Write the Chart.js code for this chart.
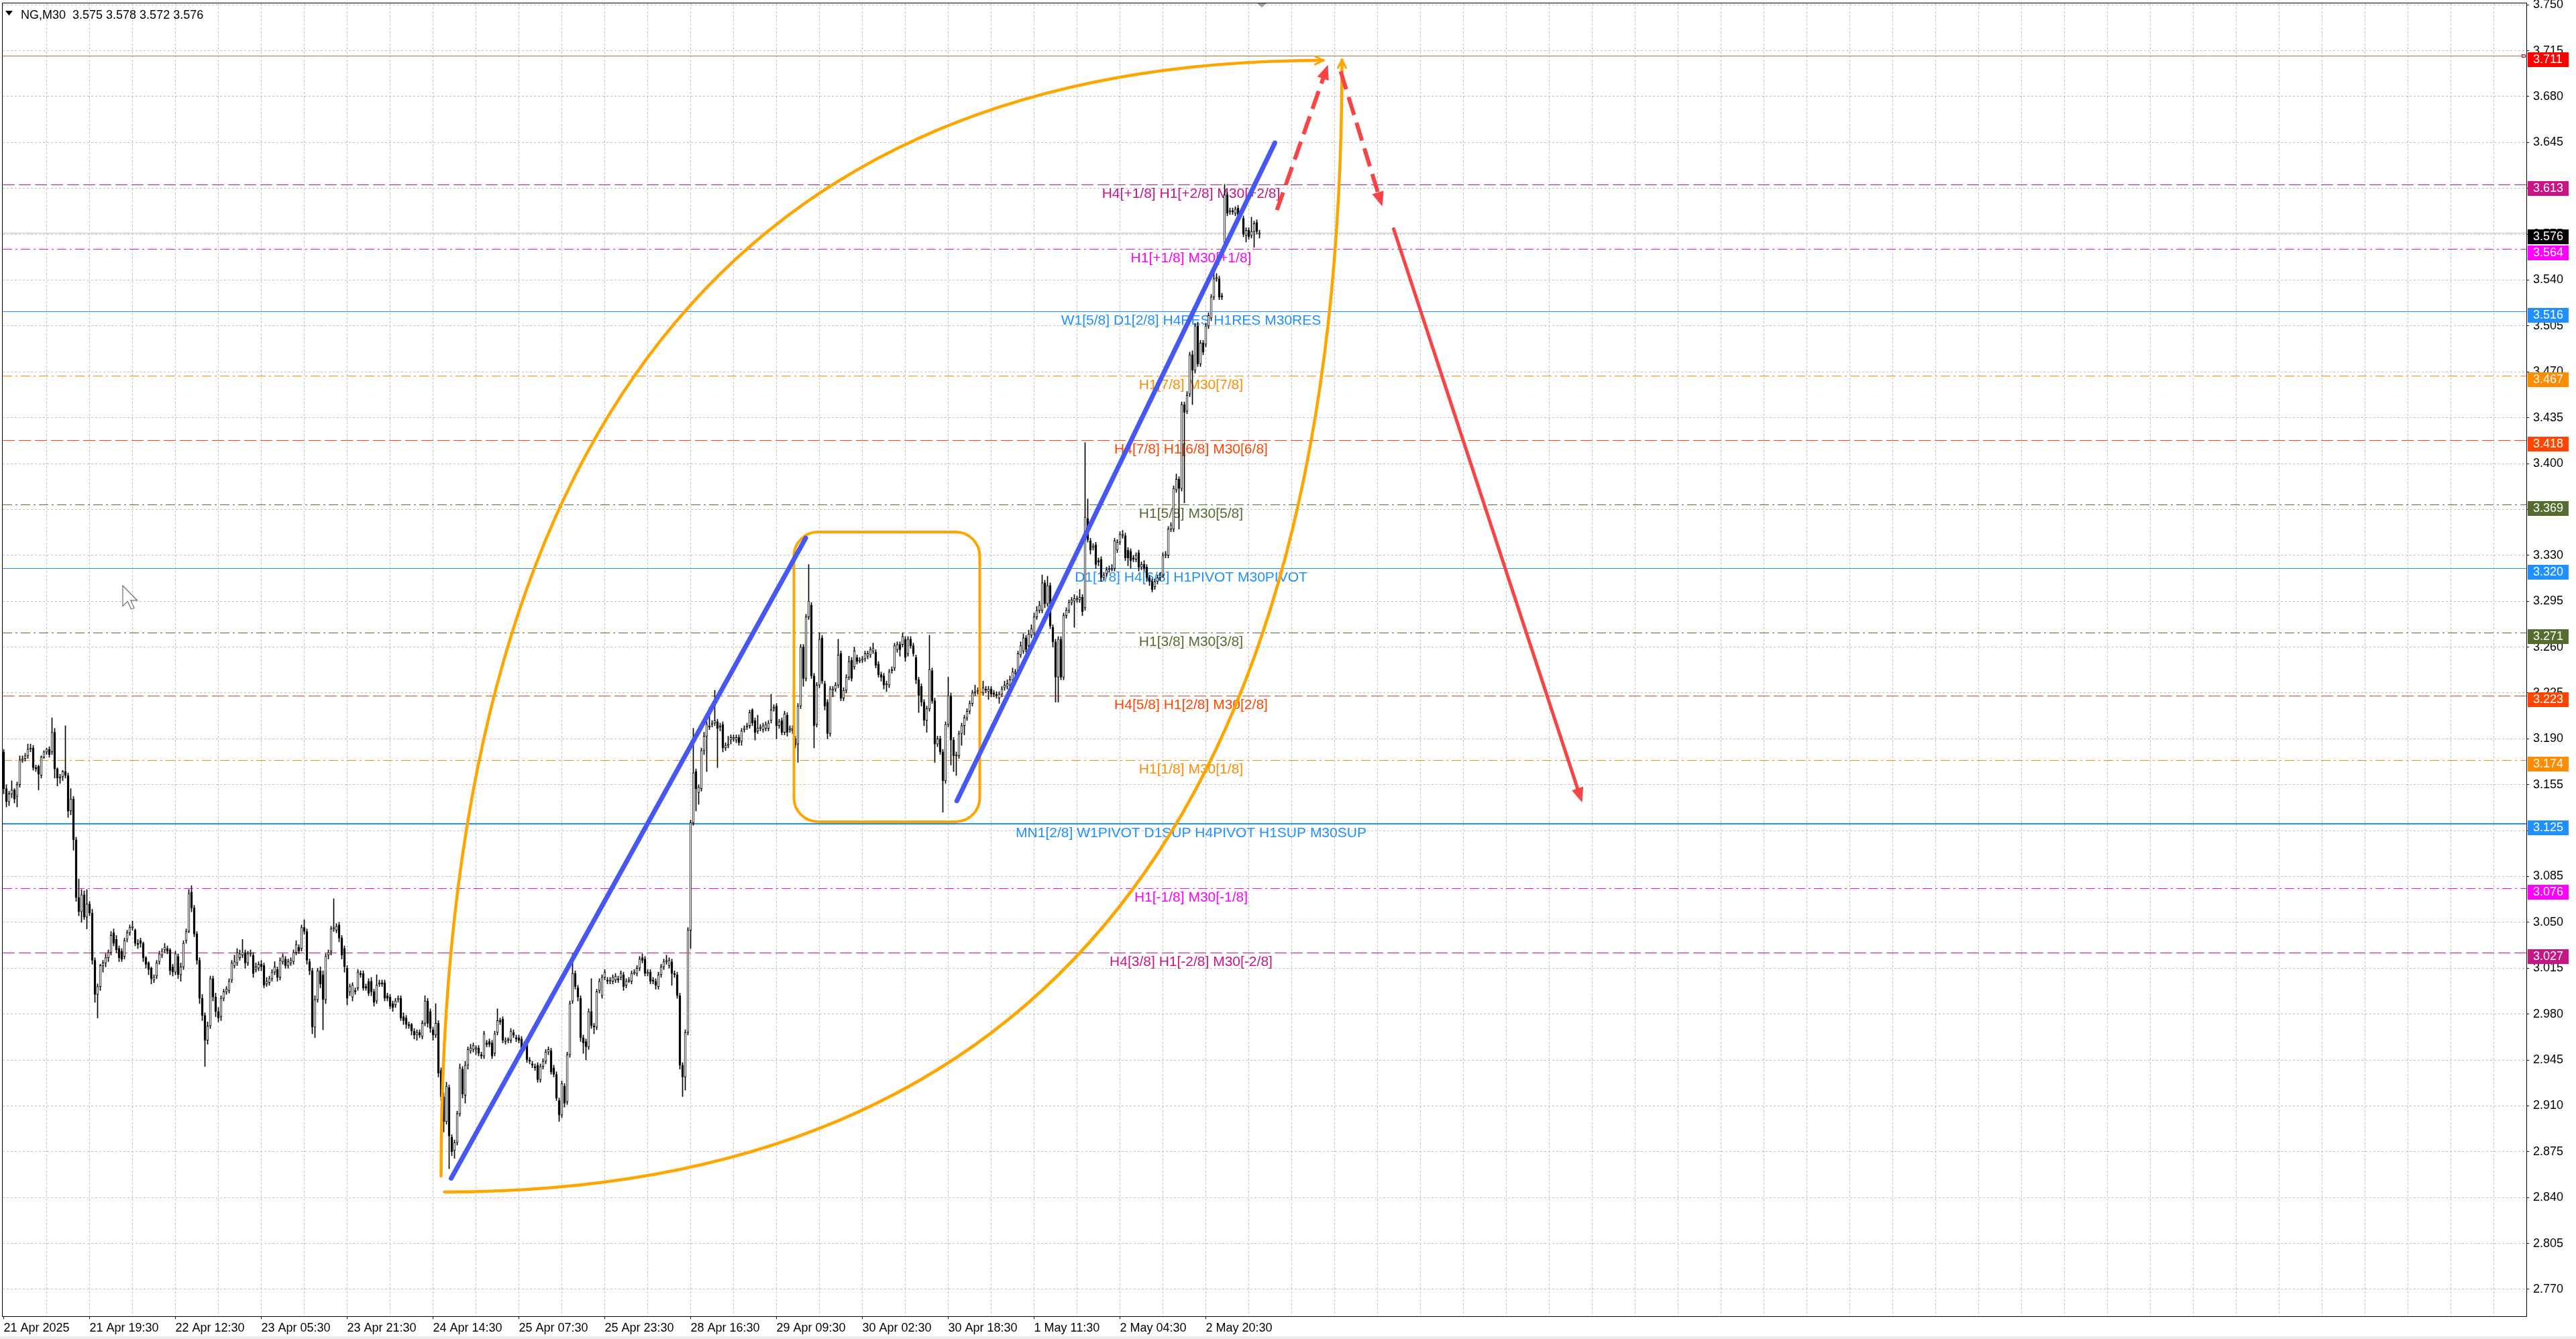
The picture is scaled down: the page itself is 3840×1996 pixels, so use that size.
<!DOCTYPE html>
<html>
<head>
<meta charset="utf-8">
<script src="https://cdn.jsdelivr.net/npm/chart.js@4.4.1/dist/chart.umd.min.js"></script>
<style>
  html, body { margin: 0; padding: 0; background: #fff; }
  canvas { display: block; }
</style>
</head>
<body>
<canvas id="chart" width="3840" height="1996"></canvas>
<script>
// NG, M30 candles (bar index = position on the time axis)
const chartTitle = 'NG,M30  3.575 3.578 3.572 3.576';
const timeLabels = ['21 Apr 2025', '21 Apr 19:30', '22 Apr 12:30', '23 Apr 05:30', '23 Apr 21:30', '24 Apr 14:30',
  '25 Apr 07:30', '25 Apr 23:30', '28 Apr 16:30', '29 Apr 09:30', '30 Apr 02:30', '30 Apr 18:30',
  '1 May 11:30', '2 May 04:30', '2 May 20:30'];
const priceTicks = [2.770, 2.805, 2.840, 2.875, 2.910, 2.945, 2.980, 3.015, 3.050, 3.085, 3.120, 3.155, 3.190, 3.225,
  3.260, 3.295, 3.330, 3.365, 3.400, 3.435, 3.470, 3.505, 3.540, 3.575, 3.610, 3.645, 3.680, 3.715, 3.750];

const opens = [
3.180,3.152,3.142,3.148,3.151,3.146,3.155,3.174,3.175,3.177,
3.182,3.183,3.168,3.169,3.162,3.176,3.180,3.182,3.180,3.195,
3.167,3.160,3.161,3.165,3.162,3.135,3.144,3.113,3.069,3.058,
3.071,3.054,3.064,3.057,3.021,2.995,3.001,3.017,3.019,3.023,
3.027,3.042,3.037,3.030,3.028,3.024,3.037,3.042,3.046,3.044,
3.034,3.036,3.034,3.023,3.019,3.015,3.006,3.009,3.020,3.025,
3.029,3.030,3.029,3.016,3.012,3.024,3.010,3.016,3.036,3.043,
3.073,3.061,3.041,3.021,2.992,2.979,2.960,2.971,3.007,2.993,
2.982,2.978,2.992,2.997,2.998,3.006,3.017,3.019,3.023,3.025,
3.027,3.019,3.026,3.025,3.014,3.015,3.018,3.017,3.003,3.004,
3.007,3.012,3.014,3.008,3.020,3.022,3.017,3.019,3.020,3.027,
3.031,3.030,3.046,3.043,3.020,3.013,2.970,2.991,3.013,3.010,
2.991,3.025,3.028,3.045,3.044,3.048,3.038,3.030,3.015,2.997,
2.993,2.998,3.000,3.011,3.011,3.001,3.005,3.005,2.997,2.990,
3.003,3.004,3.004,2.994,2.993,2.988,2.987,2.991,2.992,2.978,
2.977,2.972,2.972,2.967,2.964,2.966,2.963,2.973,2.990,2.982,
2.968,2.964,2.973,2.937,2.917,2.898,2.924,2.886,2.876,2.882,
2.904,2.938,2.918,2.941,2.952,2.953,2.953,2.954,2.949,2.948,
2.958,2.959,2.958,2.950,2.966,2.975,2.976,2.959,2.960,2.960,
2.966,2.962,2.962,2.961,2.954,2.958,2.945,2.942,2.940,2.941,
2.930,2.940,2.944,2.951,2.952,2.939,2.934,2.914,2.903,2.925,
2.913,2.949,2.990,3.011,3.000,2.992,2.962,2.959,2.955,2.982,
2.971,2.970,2.998,2.994,3.008,3.006,3.005,3.005,3.006,3.007,
3.008,3.010,3.002,3.005,3.005,3.011,3.011,3.015,3.023,3.022,
3.011,3.012,3.006,3.005,3.001,3.010,3.016,3.020,3.017,3.020,
3.011,3.010,2.994,2.941,2.932,2.966,3.044,3.126,3.165,3.149,
3.152,3.181,3.192,3.199,3.201,3.202,3.203,3.199,3.201,3.183,
3.185,3.189,3.190,3.189,3.191,3.188,3.197,3.199,3.200,3.212,
3.204,3.196,3.198,3.197,3.198,3.198,3.204,3.213,3.215,3.200,
3.204,3.195,3.208,3.197,3.198,3.190,3.186,3.215,3.260,3.236,
3.283,3.292,3.238,3.201,3.231,3.267,3.232,3.218,3.194,3.227,
3.228,3.231,3.255,3.221,3.227,3.237,3.250,3.245,3.252,3.249,
3.250,3.251,3.253,3.254,3.257,3.256,3.247,3.239,3.238,3.231,
3.231,3.242,3.244,3.258,3.262,3.262,3.266,3.255,3.266,3.261,
3.252,3.235,3.230,3.218,3.204,3.213,3.242,3.219,3.186,3.190,
3.180,3.158,3.201,3.223,3.189,3.177,3.177,3.194,3.200,3.206,
3.211,3.217,3.225,3.226,3.226,3.225,3.228,3.226,3.228,3.225,
3.224,3.221,3.224,3.229,3.230,3.231,3.235,3.240,3.242,3.254,
3.257,3.267,3.261,3.269,3.271,3.283,3.288,3.288,3.309,3.293,
3.307,3.275,3.264,3.237,3.266,3.237,3.284,3.288,3.294,3.295,
3.296,3.296,3.298,3.290,3.358,3.341,3.336,3.338,3.326,3.327,
3.313,3.316,3.319,3.319,3.320,3.334,3.340,3.345,3.345,3.334,
3.333,3.328,3.327,3.332,3.321,3.323,3.321,3.313,3.310,3.306,
3.310,3.313,3.315,3.330,3.330,3.350,3.350,3.380,3.388,3.381,
3.445,3.440,3.453,3.483,3.471,3.505,3.476,3.492,3.491,3.505,
3.511,3.527,3.541,3.541,3.528,3.569,3.605,3.592,3.593,3.591,
3.595,3.591,3.587,3.574,3.578,3.574,3.577,3.584,3.575
];
const highs = [
3.182,3.155,3.150,3.158,3.152,3.157,3.177,3.177,3.179,3.186,
3.186,3.185,3.170,3.170,3.177,3.181,3.183,3.184,3.206,3.198,
3.168,3.163,3.166,3.200,3.164,3.152,3.146,3.115,3.083,3.075,
3.074,3.075,3.066,3.060,3.023,3.003,3.018,3.021,3.026,3.029,
3.043,3.045,3.040,3.032,3.030,3.038,3.044,3.048,3.051,3.045,
3.037,3.038,3.035,3.024,3.020,3.016,3.010,3.021,3.028,3.030,
3.034,3.032,3.030,3.018,3.028,3.026,3.019,3.036,3.045,3.075,
3.078,3.063,3.043,3.023,2.995,2.981,2.974,3.009,3.009,2.996,
2.985,2.994,2.999,3.001,3.007,3.021,3.025,3.030,3.029,3.037,
3.029,3.028,3.029,3.027,3.019,3.020,3.021,3.019,3.008,3.009,
3.014,3.020,3.016,3.023,3.026,3.024,3.022,3.023,3.029,3.036,
3.033,3.048,3.052,3.045,3.022,3.015,2.994,3.015,3.016,3.013,
3.026,3.029,3.047,3.068,3.049,3.050,3.040,3.032,3.017,3.003,
3.004,3.000,3.014,3.013,3.013,3.003,3.007,3.008,2.999,3.010,
3.006,3.006,3.006,2.996,2.995,2.990,2.992,2.994,2.994,2.981,
2.979,2.974,2.973,2.969,2.968,2.968,2.975,2.994,2.992,2.984,
2.970,2.988,2.975,2.939,2.920,2.928,2.926,2.888,2.884,2.906,
2.942,2.940,2.944,2.955,2.957,2.958,2.956,2.956,2.951,2.967,
2.960,2.961,2.960,2.967,2.984,2.977,2.978,2.962,2.962,2.969,
2.968,2.964,2.964,2.963,2.959,2.960,2.947,2.944,2.942,2.943,
2.942,2.946,2.953,2.955,2.954,2.941,2.936,2.916,2.929,2.927,
2.951,2.990,3.026,3.013,3.002,2.994,2.964,2.961,2.984,3.007,
2.973,2.999,3.007,3.010,3.014,3.008,3.008,3.010,3.011,3.009,
3.013,3.012,3.007,3.008,3.013,3.014,3.017,3.024,3.026,3.024,
3.014,3.014,3.008,3.007,3.012,3.018,3.022,3.025,3.023,3.022,
3.013,3.012,2.996,2.943,2.968,3.046,3.128,3.198,3.167,3.155,
3.183,3.195,3.203,3.214,3.204,3.227,3.205,3.202,3.203,3.187,
3.192,3.193,3.193,3.193,3.193,3.198,3.200,3.202,3.212,3.213,
3.206,3.208,3.201,3.202,3.203,3.204,3.224,3.216,3.217,3.205,
3.206,3.211,3.210,3.200,3.200,3.192,3.217,3.262,3.262,3.285,
3.323,3.294,3.240,3.233,3.271,3.269,3.234,3.220,3.230,3.230,
3.233,3.266,3.257,3.229,3.239,3.253,3.252,3.260,3.254,3.252,
3.253,3.257,3.257,3.260,3.263,3.258,3.249,3.241,3.240,3.234,
3.243,3.245,3.263,3.264,3.264,3.271,3.268,3.268,3.268,3.263,
3.254,3.237,3.232,3.220,3.215,3.269,3.244,3.221,3.192,3.192,
3.182,3.203,3.237,3.225,3.191,3.180,3.196,3.202,3.208,3.213,
3.219,3.227,3.231,3.229,3.228,3.234,3.230,3.230,3.230,3.227,
3.226,3.226,3.230,3.234,3.235,3.238,3.244,3.243,3.257,3.264,
3.270,3.269,3.273,3.277,3.286,3.291,3.295,3.315,3.311,3.314,
3.309,3.277,3.266,3.268,3.268,3.286,3.290,3.296,3.298,3.300,
3.299,3.304,3.300,3.416,3.373,3.343,3.339,3.340,3.328,3.329,
3.317,3.321,3.322,3.323,3.343,3.342,3.348,3.349,3.347,3.336,
3.335,3.330,3.332,3.334,3.325,3.326,3.323,3.315,3.312,3.312,
3.315,3.317,3.332,3.333,3.352,3.355,3.383,3.392,3.390,3.447,
3.447,3.455,3.485,3.486,3.507,3.508,3.494,3.494,3.507,3.515,
3.529,3.551,3.545,3.543,3.530,3.613,3.607,3.595,3.595,3.596,
3.597,3.593,3.589,3.580,3.580,3.588,3.585,3.586,3.578
];
const lows = [
3.148,3.138,3.139,3.145,3.141,3.138,3.153,3.172,3.173,3.175,
3.180,3.166,3.165,3.151,3.160,3.175,3.178,3.176,3.178,3.160,
3.154,3.156,3.158,3.160,3.130,3.132,3.105,3.066,3.055,3.050,
3.052,3.045,3.055,3.018,2.989,2.977,2.998,3.012,3.016,3.020,
3.025,3.032,3.027,3.020,3.020,3.022,3.035,3.040,3.044,3.032,
3.030,3.031,3.020,3.015,3.010,3.003,3.004,3.007,3.018,3.023,
3.027,3.026,3.010,3.009,3.010,3.007,3.005,3.014,3.034,3.042,
3.058,3.039,3.018,2.988,2.975,2.940,2.957,2.969,2.990,2.978,
2.974,2.975,2.990,2.995,2.996,3.004,3.015,3.017,3.021,3.023,
3.015,3.017,3.024,3.008,3.012,3.013,3.013,3.000,3.001,3.002,
3.005,3.010,3.005,3.006,3.018,3.015,3.015,3.017,3.018,3.025,
3.026,3.028,3.041,3.018,3.010,2.965,2.962,2.989,3.000,2.968,
2.988,3.022,3.025,3.043,3.042,3.035,3.022,3.012,2.987,2.994,
2.990,2.995,2.998,3.008,2.998,2.998,2.994,2.994,2.986,2.988,
3.001,3.001,2.990,2.990,2.984,2.982,2.985,2.989,2.975,2.972,
2.969,2.969,2.964,2.961,2.960,2.962,2.961,2.971,2.970,2.966,
2.960,2.962,2.932,2.914,2.890,2.896,2.862,2.872,2.870,2.880,
2.902,2.916,2.912,2.938,2.950,2.951,2.949,2.948,2.946,2.946,
2.955,2.955,2.946,2.948,2.964,2.972,2.958,2.957,2.958,2.958,
2.962,2.959,2.958,2.952,2.952,2.943,2.942,2.939,2.937,2.928,
2.928,2.938,2.942,2.949,2.934,2.932,2.914,2.898,2.901,2.909,
2.911,2.947,2.988,2.999,2.990,2.959,2.950,2.945,2.953,2.969,
2.965,2.968,2.996,2.992,3.006,3.003,3.003,3.003,3.004,3.004,
3.006,2.998,3.000,3.004,3.003,3.010,3.009,3.013,3.019,3.009,
3.009,3.003,3.003,2.999,2.999,3.008,3.014,3.018,3.015,3.002,
3.008,2.992,2.938,2.917,2.922,2.964,3.030,3.124,3.135,3.140,
3.150,3.178,3.165,3.197,3.199,3.200,3.168,3.196,3.180,3.181,
3.183,3.186,3.188,3.187,3.185,3.185,3.195,3.197,3.198,3.200,
3.189,3.194,3.196,3.195,3.196,3.196,3.202,3.211,3.190,3.198,
3.193,3.193,3.192,3.195,3.194,3.183,3.172,3.213,3.230,3.234,
3.281,3.236,3.183,3.199,3.229,3.232,3.212,3.190,3.192,3.222,
3.226,3.229,3.219,3.219,3.225,3.235,3.234,3.243,3.247,3.248,
3.248,3.249,3.251,3.252,3.255,3.244,3.237,3.234,3.228,3.226,
3.229,3.240,3.242,3.256,3.253,3.260,3.249,3.253,3.259,3.253,
3.232,3.210,3.215,3.200,3.195,3.211,3.217,3.172,3.184,3.178,
3.134,3.156,3.199,3.170,3.165,3.162,3.175,3.185,3.193,3.204,
3.209,3.215,3.223,3.224,3.223,3.223,3.225,3.220,3.222,3.222,
3.221,3.217,3.222,3.227,3.228,3.229,3.233,3.238,3.240,3.252,
3.255,3.256,3.259,3.267,3.269,3.281,3.286,3.286,3.290,3.291,
3.274,3.260,3.218,3.218,3.235,3.235,3.282,3.286,3.292,3.275,
3.294,3.294,3.284,3.288,3.340,3.331,3.334,3.320,3.322,3.310,
3.311,3.314,3.317,3.318,3.318,3.332,3.338,3.343,3.326,3.322,
3.320,3.325,3.325,3.318,3.319,3.318,3.310,3.307,3.302,3.304,
3.308,3.311,3.313,3.328,3.328,3.348,3.348,3.378,3.350,3.379,
3.370,3.438,3.451,3.445,3.469,3.474,3.474,3.483,3.489,3.503,
3.509,3.525,3.539,3.525,3.525,3.566,3.589,3.590,3.590,3.589,
3.588,3.588,3.573,3.569,3.571,3.572,3.565,3.575,3.572
];
const closes = [
3.152,3.142,3.148,3.151,3.144,3.155,3.174,3.175,3.177,3.182,
3.183,3.168,3.167,3.163,3.176,3.180,3.182,3.178,3.195,3.167,
3.160,3.161,3.165,3.162,3.135,3.144,3.113,3.069,3.058,3.071,
3.054,3.064,3.057,3.021,2.995,3.001,3.017,3.019,3.023,3.027,
3.040,3.034,3.029,3.023,3.022,3.036,3.042,3.046,3.047,3.034,
3.033,3.034,3.023,3.018,3.014,3.007,3.008,3.019,3.026,3.028,
3.031,3.028,3.013,3.012,3.026,3.010,3.016,3.034,3.043,3.072,
3.061,3.041,3.021,2.992,2.979,2.960,2.971,3.007,2.993,2.982,
2.977,2.992,2.997,2.999,3.005,3.019,3.020,3.027,3.026,3.027,
3.019,3.026,3.027,3.011,3.016,3.018,3.016,3.002,3.005,3.007,
3.012,3.016,3.008,3.021,3.024,3.017,3.020,3.021,3.027,3.033,
3.028,3.046,3.043,3.021,3.013,2.970,2.991,3.013,3.003,2.991,
3.024,3.027,3.045,3.046,3.047,3.038,3.025,3.016,2.992,3.001,
3.002,2.997,3.012,3.010,3.000,3.000,2.996,2.997,2.989,3.002,
3.004,3.003,2.992,2.992,2.986,2.985,2.990,2.992,2.977,2.975,
2.972,2.971,2.967,2.964,2.966,2.964,2.973,2.990,2.973,2.969,
2.964,2.973,2.935,2.917,2.898,2.925,2.887,2.875,2.882,2.904,
2.939,2.919,2.941,2.953,2.954,2.956,2.954,2.950,2.948,2.965,
2.957,2.957,2.948,2.965,2.975,2.974,2.960,2.960,2.961,2.967,
2.964,2.961,2.960,2.954,2.957,2.945,2.944,2.941,2.939,2.930,
2.940,2.944,2.951,2.953,2.936,2.934,2.916,2.903,2.927,2.912,
2.949,2.988,3.011,3.001,2.993,2.962,2.958,2.955,2.982,2.971,
2.970,2.997,3.005,3.008,3.012,3.005,3.006,3.008,3.009,3.006,
3.011,3.001,3.005,3.006,3.011,3.012,3.015,3.022,3.021,3.011,
3.012,3.005,3.005,3.002,3.010,3.016,3.020,3.021,3.021,3.011,
3.010,2.994,2.941,2.932,2.966,3.044,3.126,3.164,3.152,3.153,
3.181,3.192,3.201,3.200,3.202,3.204,3.198,3.200,3.183,3.185,
3.186,3.191,3.191,3.191,3.187,3.196,3.198,3.200,3.210,3.202,
3.195,3.198,3.199,3.200,3.201,3.202,3.212,3.214,3.200,3.203,
3.195,3.209,3.195,3.198,3.196,3.185,3.215,3.260,3.236,3.283,
3.295,3.238,3.200,3.231,3.266,3.234,3.215,3.194,3.228,3.228,
3.231,3.254,3.221,3.227,3.237,3.249,3.236,3.257,3.249,3.250,
3.251,3.255,3.255,3.258,3.259,3.246,3.239,3.237,3.231,3.232,
3.241,3.243,3.261,3.262,3.258,3.268,3.252,3.266,3.261,3.255,
3.235,3.223,3.218,3.204,3.213,3.243,3.219,3.186,3.190,3.180,
3.158,3.201,3.223,3.189,3.177,3.178,3.194,3.200,3.206,3.211,
3.217,3.225,3.226,3.227,3.225,3.229,3.227,3.228,3.224,3.224,
3.223,3.224,3.228,3.231,3.232,3.235,3.241,3.241,3.255,3.261,
3.267,3.258,3.270,3.274,3.283,3.288,3.292,3.309,3.293,3.307,
3.276,3.264,3.237,3.266,3.237,3.284,3.288,3.294,3.296,3.297,
3.297,3.298,3.287,3.359,3.342,3.334,3.337,3.323,3.325,3.313,
3.315,3.319,3.320,3.320,3.341,3.340,3.346,3.346,3.328,3.328,
3.326,3.327,3.330,3.321,3.323,3.320,3.313,3.310,3.304,3.310,
3.313,3.315,3.330,3.331,3.350,3.353,3.381,3.388,3.381,3.445,
3.439,3.452,3.483,3.471,3.505,3.476,3.492,3.485,3.505,3.513,
3.527,3.541,3.542,3.527,3.527,3.605,3.591,3.593,3.592,3.594,
3.590,3.590,3.575,3.578,3.573,3.577,3.583,3.577,3.576
];

// Murrey-math style levels
const levelPrices = [3.711, 3.613, 3.576, 3.564, 3.516, 3.467, 3.418, 3.369, 3.320, 3.271, 3.223, 3.174, 3.125, 3.076, 3.027];
const levelTexts = ['', 'H4[+1/8] H1[+2/8] M30[+2/8]', '', 'H1[+1/8] M30[+1/8]', 'W1[5/8] D1[2/8] H4RES H1RES M30RES',
  'H1[7/8] M30[7/8]', 'H4[7/8] H1[6/8] M30[6/8]', 'H1[5/8] M30[5/8]', 'D1[1/8] H4[6/8] H1PIVOT M30PIVOT',
  'H1[3/8] M30[3/8]', 'H4[5/8] H1[2/8] M30[2/8]', 'H1[1/8] M30[1/8]', 'MN1[2/8] W1PIVOT D1SUP H4PIVOT H1SUP M30SUP',
  'H1[-1/8] M30[-1/8]', 'H4[3/8] H1[-2/8] M30[-2/8]'];
const levelColors = ['#cc6633', '#c71585', '#c0c0c0', '#ff00ff', '#1e90ff', '#ff8c00', '#ff4500', '#556b2f', '#1e90ff',
  '#556b2f', '#ff4500', '#ff8c00', '#1e90ff', '#ff00ff', '#c71585'];
const levelStyles = ['solid', 'dash', 'solid', 'dashdot', 'solid', 'dashdot', 'dash', 'dashdot', 'solid', 'dashdot',
  'dash', 'dashdot', 'solid', 'dashdot', 'dash'];
const levelWidths = [1, 1, 1, 1, 1, 1, 1, 1, 1, 1, 1, 1, 2, 1, 1];
const boxColors = ['#ff0000', '#c71585', '#000000', '#ff00ff', '#1e90ff', '#ff8c00', '#ff4500', '#556b2f', '#1e90ff',
  '#556b2f', '#ff4500', '#ff8c00', '#1e90ff', '#ff00ff', '#c71585'];
const dashPatterns = { solid: [], dash: [18, 6], dashdot: [14, 5, 3, 5] };
const labelBar = 442.5;

// hand drawn objects, in (bar, price)
const trendLines = [
  { from: [166.75, 2.8547], to: [298.9, 3.3432] },
  { from: [355.2, 3.1426], to: [473.75, 3.6447] }
];
const arcs = [
  { from: [163, 2.8565], ctrl: [163, 3.7076], to: [491.75, 3.7076] },
  { from: [164.25, 2.8443], ctrl: [498.75, 2.8443], to: [498.75, 3.708] }
];
const zoneBox = { left: 294.5, right: 363.75, top: 3.3478, bottom: 3.1267 };
const redArrows = [
  { from: [474.5, 3.5934], to: [493.5, 3.7043], dashed: true },
  { from: [498.25, 3.6992], to: [513.75, 3.5961], dashed: true },
  { from: [518, 3.579], to: [588.25, 3.1414], dashed: false }
];

const FONT = '"Liberation Sans", Arial, sans-serif';
const gridBars = [];
for (let b = 0; b <= 928; b += 16) gridBars.push(b);

function arrowHead(ctx, x1, y1, x2, y2, len, half, filled) {
  const a = Math.atan2(y2 - y1, x2 - x1);
  const bx = x2 - len * Math.cos(a), by = y2 - len * Math.sin(a);
  const px = -Math.sin(a) * half, py = Math.cos(a) * half;
  ctx.beginPath();
  if (filled) {
    ctx.moveTo(x2, y2);
    ctx.lineTo(bx + px, by + py);
    ctx.lineTo(bx - px, by - py);
    ctx.closePath();
    ctx.fill();
  } else {
    ctx.moveTo(bx + px, by + py);
    ctx.lineTo(x2, y2);
    ctx.lineTo(bx - px, by - py);
    ctx.stroke();
  }
}

const overlay = {
  id: 'overlay',
  beforeDraw(chart) {
    const ctx = chart.ctx;
    ctx.save();
    ctx.fillStyle = '#ffffff';
    ctx.fillRect(0, 0, chart.width, chart.height);
    ctx.restore();
  },
  beforeDatasetsDraw(chart) {
    const { ctx, chartArea: a, scales: { x, y } } = chart;
    ctx.save();
    ctx.beginPath();
    ctx.rect(a.left, a.top, a.right - a.left, a.bottom - a.top);
    ctx.clip();
    levelPrices.forEach((p, i) => {
      const w = levelWidths[i];
      const py = Math.round(y.getPixelForValue(p)) + (w % 2 ? 0.5 : 0);
      ctx.strokeStyle = levelColors[i];
      ctx.lineWidth = w;
      ctx.setLineDash(dashPatterns[levelStyles[i]]);
      ctx.beginPath();
      ctx.moveTo(a.left, py);
      ctx.lineTo(a.right, py);
      ctx.stroke();
    });
    ctx.setLineDash([]);
    ctx.font = '21px ' + FONT;
    ctx.textAlign = 'center';
    ctx.textBaseline = 'alphabetic';
    const lx = x.getPixelForValue(labelBar);
    levelPrices.forEach((p, i) => {
      if (!levelTexts[i]) return;
      ctx.fillStyle = levelColors[i];
      ctx.fillText(levelTexts[i], lx, Math.round(y.getPixelForValue(p)) + 20);
    });
    ctx.restore();
  },
  afterDatasetsDraw(chart) {
    const { ctx, chartArea: a, scales: { x, y } } = chart;
    const P = pt => [x.getPixelForValue(pt[0]), y.getPixelForValue(pt[1])];
    ctx.save();
    ctx.beginPath();
    ctx.rect(a.left, a.top, a.right - a.left, a.bottom - a.top);
    ctx.clip();
    ctx.lineCap = 'round';
    ctx.lineJoin = 'round';

    // orange zone box
    const bl = x.getPixelForValue(zoneBox.left), br = x.getPixelForValue(zoneBox.right);
    const bt = y.getPixelForValue(zoneBox.top), bb = y.getPixelForValue(zoneBox.bottom);
    const r = 36;
    ctx.strokeStyle = '#ffa500';
    ctx.lineWidth = 4;
    ctx.beginPath();
    ctx.moveTo(bl + r, bt);
    ctx.arcTo(br, bt, br, bb, r);
    ctx.arcTo(br, bb, bl, bb, r);
    ctx.arcTo(bl, bb, bl, bt, r);
    ctx.arcTo(bl, bt, br, bt, r);
    ctx.closePath();
    ctx.stroke();

    // orange arcs
    ctx.lineWidth = 4.5;
    arcs.forEach(c => {
      const [x0, y0] = P(c.from), [cx, cy] = P(c.ctrl), [x1, y1] = P(c.to);
      ctx.beginPath();
      ctx.moveTo(x0, y0);
      ctx.quadraticCurveTo(cx, cy, x1, y1);
      ctx.stroke();
      ctx.lineWidth = 3;
      arrowHead(ctx, cx, cy, x1, y1, 12, 6, false);
      ctx.lineWidth = 4.5;
    });

    // blue trend lines
    ctx.strokeStyle = '#4758f2';
    ctx.lineWidth = 7;
    trendLines.forEach(t => {
      const [x0, y0] = P(t.from), [x1, y1] = P(t.to);
      ctx.beginPath();
      ctx.moveTo(x0, y0);
      ctx.lineTo(x1, y1);
      ctx.stroke();
    });

    // red arrows
    ctx.strokeStyle = '#f84444';
    ctx.fillStyle = '#f84444';
    redArrows.forEach(ra => {
      const [x0, y0] = P(ra.from), [x1, y1] = P(ra.to);
      const ang = Math.atan2(y1 - y0, x1 - x0);
      const ex = x1 - 14 * Math.cos(ang), ey = y1 - 14 * Math.sin(ang);
      ctx.lineWidth = ra.dashed ? 6 : 5;
      ctx.lineCap = ra.dashed ? 'butt' : 'round';
      ctx.setLineDash(ra.dashed ? [28, 12] : []);
      ctx.beginPath();
      ctx.moveTo(x0, y0);
      ctx.lineTo(ex, ey);
      ctx.stroke();
      ctx.setLineDash([]);
      arrowHead(ctx, x0, y0, x1, y1, 22, 9, true);
    });
    ctx.restore();
  },
  afterDraw(chart) {
    const { ctx, chartArea: a, scales: { y } } = chart;
    ctx.save();
    // chart frame
    ctx.strokeStyle = '#000';
    ctx.lineWidth = 1;
    ctx.strokeRect(a.left - 0.5, a.top - 0.5, a.right - a.left + 1, a.bottom - a.top + 1);
    // bottom window strip
    ctx.fillStyle = '#ececec';
    ctx.fillRect(0, chart.height - 4, chart.width, 4);

    // price boxes on the right axis
    ctx.font = '18px ' + FONT;
    ctx.textAlign = 'left';
    ctx.textBaseline = 'middle';
    levelPrices.forEach((p, i) => {
      const py = Math.round(y.getPixelForValue(p));
      ctx.fillStyle = boxColors[i];
      ctx.fillRect(a.right + 2, py - 5, 61, 22);
      ctx.fillStyle = '#ffffff';
      ctx.fillText(p.toFixed(3), a.right + 10, py + 6);
    });
    // marker at the right end of the top line
    const ty = Math.round(y.getPixelForValue(levelPrices[0]));
    ctx.strokeStyle = '#ff0000';
    ctx.strokeRect(a.right - 6.5, ty - 1.5, 5, 4);

    // header
    ctx.fillStyle = '#000';
    ctx.beginPath();
    ctx.moveTo(8, 16);
    ctx.lineTo(19, 16);
    ctx.lineTo(13.5, 23);
    ctx.closePath();
    ctx.fill();
    ctx.font = '18px ' + FONT;
    ctx.textBaseline = 'alphabetic';
    ctx.fillText(chartTitle, 31, 28);

    // chart shift marker
    ctx.fillStyle = '#a0a0a0';
    ctx.beginPath();
    ctx.moveTo(1874, 5);
    ctx.lineTo(1888, 5);
    ctx.lineTo(1881, 11);
    ctx.closePath();
    ctx.fill();

    // mouse pointer
    const s = 1.8, ox = 183, oy = 873;
    const pts = [[0, 0], [0, 17], [4, 13], [7, 19.5], [9.5, 18.5], [6.5, 12.2], [12, 12.2]];
    ctx.beginPath();
    pts.forEach((q, k) => k ? ctx.lineTo(ox + q[0] * s, oy + q[1] * s) : ctx.moveTo(ox + q[0] * s, oy + q[1] * s));
    ctx.closePath();
    ctx.fillStyle = '#ffffff';
    ctx.fill();
    ctx.strokeStyle = '#707070';
    ctx.lineWidth = 1.2;
    ctx.stroke();
    ctx.restore();
  }
};

const wickData = highs.map((h, i) => ({ x: i, y: [lows[i], h] }));
const bodyData = opens.map((o, i) => ({ x: i, y: [Math.min(o, closes[i]), Math.max(o, closes[i])] }));

new Chart(document.getElementById('chart'), {
  type: 'bar',
  data: {
    datasets: [
      {
        label: 'wicks', data: wickData, order: 1, grouped: false,
        barThickness: 1, backgroundColor: '#000000', borderWidth: 0, minBarLength: 1
      },
      {
        label: 'bodies', data: bodyData, order: 0, grouped: false,
        barThickness: 3, minBarLength: 1, borderWidth: 1, borderSkipped: false, borderColor: '#000000',
        backgroundColor: ctx => closes[ctx.dataIndex] >= opens[ctx.dataIndex] ? '#ffffff' : '#000000'
      }
    ]
  },
  options: {
    responsive: false,
    animation: false,
    devicePixelRatio: 1,
    layout: { padding: { left: 4, top: 5, right: 0, bottom: 0 } },
    plugins: { legend: { display: false }, tooltip: { enabled: false } },
    scales: {
      x: {
        type: 'linear',
        offset: false,
        min: -0.375,
        max: 940.125,
        afterBuildTicks: ax => { ax.ticks = gridBars.map(v => ({ value: v })); },
        afterFit: ax => { ax.height = 34; ax.paddingLeft = 0; ax.paddingRight = 0; },
        grid: {
          offset: false,
          color: c => (c.tick && c.tick.value === 0) ? 'rgba(0,0,0,0)' : '#c0c0c0',
          lineWidth: 1,
          drawTicks: true,
          tickLength: 4,
          tickColor: c => (c.tick && c.tick.value % 32 === 0 && c.tick.value / 32 < timeLabels.length) ? '#000' : 'rgba(0,0,0,0)'
        },
        border: { display: true, color: '#000', width: 1, dash: [3, 3] },
        ticks: {
          autoSkip: false, maxRotation: 0, minRotation: 0, align: 'start', padding: 3, color: '#000',
          font: { family: FONT, size: 18 },
          callback: v => (v % 32 === 0 && timeLabels[v / 32]) ? timeLabels[v / 32] : ''
        }
      },
      y: {
        type: 'linear',
        position: 'right',
        min: 2.7495,
        max: 3.7511,
        afterBuildTicks: ax => { ax.ticks = priceTicks.map(v => ({ value: v })); },
        afterFit: ax => { ax.width = 74; ax.paddingTop = 0; ax.paddingBottom = 0; },
        grid: { color: '#c0c0c0', lineWidth: 1, drawTicks: true, tickLength: 4, tickColor: '#000' },
        border: { display: true, color: '#000', width: 1, dash: [3, 3] },
        ticks: {
          padding: 6, color: '#000', font: { family: FONT, size: 18 },
          callback: v => v.toFixed(3)
        }
      }
    }
  },
  plugins: [overlay]
});
</script>
</body>
</html>
